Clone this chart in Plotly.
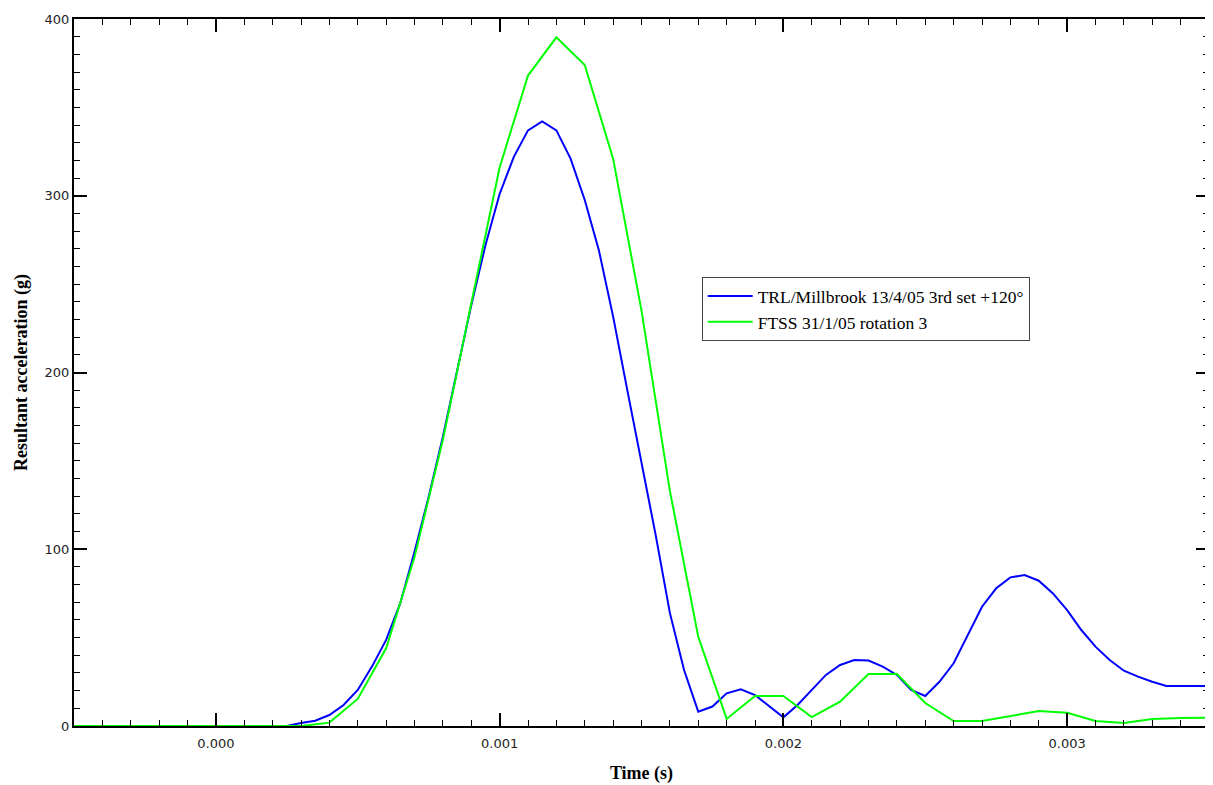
import plotly.graph_objects as go

# TRL/Millbrook 13/4/05 3rd set +120° (blue)
blue_t = [-0.0005, 0.00025, 0.0003, 0.00035, 0.0004, 0.00045, 0.0005, 0.00055, 0.0006,
          0.00065, 0.0007, 0.00075, 0.0008, 0.00085, 0.0009, 0.00095, 0.001, 0.00105,
          0.0011, 0.00115, 0.0012, 0.00125, 0.0013, 0.00135, 0.0014, 0.00145, 0.0015,
          0.00155, 0.0016, 0.00165, 0.0017, 0.00175, 0.0018, 0.00185, 0.0019, 0.00195,
          0.002, 0.00205, 0.0021, 0.00215, 0.0022, 0.00225, 0.0023, 0.00235, 0.0024,
          0.00245, 0.0025, 0.00255, 0.0026, 0.00265, 0.0027, 0.00275, 0.0028, 0.00285,
          0.0029, 0.00295, 0.003, 0.00305, 0.0031, 0.00315, 0.0032, 0.00325, 0.0033,
          0.00335, 0.0035]
blue_g = [0, 0, 1.7, 3.0, 6.2, 11.9, 20.4, 33.6, 48.7,
          69.5, 98.6, 129.7, 163.7, 200, 238, 272, 301, 322,
          337, 342, 337, 321, 297.6, 269, 231.6, 190, 148.8,
          108, 64, 31.7, 8.1, 11, 18.5, 20.7, 17.5, 11.3,
          4.9, 11.9, 20.4, 28.9, 34.5, 37.3, 37, 33.6, 28.9,
          20.4, 17, 25, 35.5, 51.5, 67.5, 77.9, 84.1, 85.4,
          82.2, 75, 65.6, 54.3, 44.9, 37.3, 31.3, 27.9, 25,
          22.6, 22.6]

# FTSS 31/1/05 rotation 3 (green)
green_t = [-0.0005, 0.0003, 0.0004, 0.0005, 0.0006, 0.0007, 0.0008, 0.0009, 0.001,
           0.0011, 0.0012, 0.0013, 0.0014, 0.0015, 0.0016, 0.0017, 0.0018, 0.0019,
           0.002, 0.0021, 0.0022, 0.0023, 0.0024, 0.0025, 0.0026, 0.0027, 0.0028,
           0.0029, 0.003, 0.0031, 0.0032, 0.0033, 0.0034, 0.0035]
green_g = [0, 0, 1.9, 15.3, 44, 95.6, 162, 240, 316,
           368, 389.6, 374, 321, 235, 133, 50.5, 4, 17,
           17, 5, 13.8, 29.4, 29.4, 13, 2.8, 2.8, 5.6,
           8.5, 7.5, 2.8, 1.7, 3.9, 4.5, 4.7]

names = ["TRL/Millbrook 13/4/05 3rd set +120°", "FTSS 31/1/05 rotation 3"]
colors = ["#0000FF", "#00FF00"]

x_range = [-0.0005, 0.0035]
y_range = [0, 400]

fig = go.Figure()
fig.add_trace(go.Scatter(x=blue_t, y=blue_g, mode="lines", name=names[0],
                         line=dict(color=colors[0], width=2)))
fig.add_trace(go.Scatter(x=green_t, y=green_g, mode="lines", name=names[1],
                         line=dict(color=colors[1], width=2)))

tickfont = dict(family="DejaVu Sans", size=13, color="#222")
titlefont = dict(family="Liberation Serif", size=18, color="black", weight="bold")

fig.update_layout(
    width=1205, height=777,
    margin=dict(l=66, r=2, t=11, b=59),
    paper_bgcolor="white", plot_bgcolor="white",
    showlegend=True,
    legend=dict(x=0.553, y=0.635, xanchor="left", yanchor="top",
                bgcolor="white", bordercolor="#444", borderwidth=1,
                font=dict(family="Liberation Serif", size=17.5, color="black"),
                tracegroupgap=0, itemwidth=45),
    xaxis=dict(range=x_range, dtick=0.001, tick0=0, tickformat=".3f",
               showgrid=False, zeroline=False, showline=True, linecolor="black",
               linewidth=2, mirror="ticks", ticks="inside", ticklen=13, tickwidth=2,
               tickcolor="black", tickfont=tickfont, ticklabelstandoff=4,
               minor=dict(ticks="inside", ticklen=6, tickwidth=1, dtick=0.0001,
                          tickcolor="black", showgrid=False),
               title=dict(text="Time (s)", font=titlefont, standoff=17)),
    yaxis=dict(range=y_range, dtick=100, tick0=0,
               showgrid=False, zeroline=False, showline=True, linecolor="black",
               linewidth=2, mirror="ticks", ticks="inside", ticklen=13, tickwidth=2,
               tickcolor="black", tickfont=tickfont,
               minor=dict(ticks="inside", ticklen=6, tickwidth=1, dtick=10,
                          tickcolor="black", showgrid=False),
               title=dict(text="Resultant acceleration (g)", font=titlefont, standoff=12)),
)

fig.write_html("out.html")
